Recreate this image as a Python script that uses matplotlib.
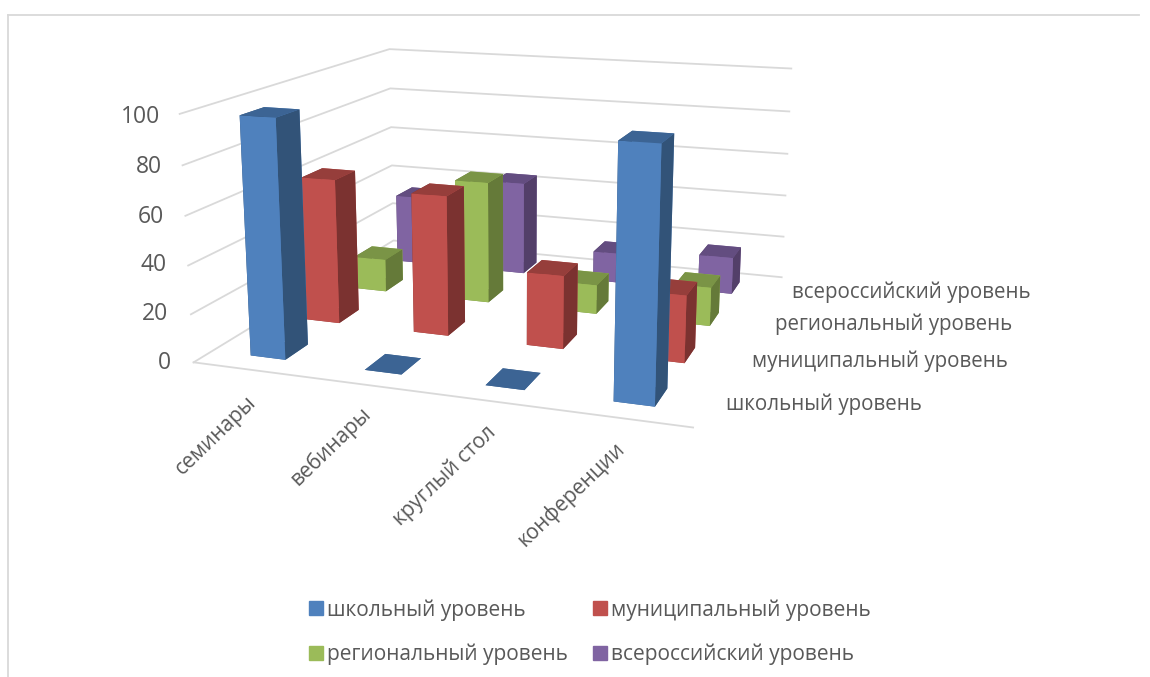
import matplotlib
matplotlib.use("Agg")
import matplotlib.pyplot as plt
from matplotlib.patches import Patch
from mpl_toolkits.mplot3d import Axes3D  # 3d projection

plt.rcParams['font.family'] = ['Open Sans', 'DejaVu Sans']

# data
categories = ['семинары', 'вебинары', 'круглый стол', 'конференции']
series = ['школьный уровень', 'муниципальный уровень', 'региональный уровень', 'всероссийский уровень']
school = [98, 0, 0, 98]
municipal = [63, 60, 31, 28]
regional = [15, 55, 13, 17]
russian = [33, 44, 14, 17]
yticks = [0, 20, 40, 60, 80, 100]

values = [school, municipal, regional, russian]
front_cols = ['#4f81bd', '#c0504d', '#9bbb59', '#8064a2']
top_cols = ['#3c6494', '#963e3b', '#7a9446', '#634d80']
side_cols = ['#325378', '#7b3230', '#657a39', '#533f69']
text_col = '#595959'
grid_col = '#d9d9d9'

W, H = 1150, 677


def px(x, y):
    # picture pixels to figure fraction
    return x / W, 1 - y / H


fig = plt.figure(figsize=(W / 100, H / 100), dpi=100)
# camera values fitted to the corners of the walls
ax = fig.add_axes([-0.0663, -0.1753, 1, 1.7], projection='3d')
ax.set_proj_type('persp', focal_length=0.2319)
ax.view_init(elev=13.81, azim=-70.73)
ax.computed_zorder = False
ax.set_axis_off()
ax.set_box_aspect((1.0339, 1, 0.513), zoom=0.5868)
ax.set_xlim(0, 4)
ax.set_ylim(0, 4)
ax.set_zlim(0, 100)

# gridlines on left and back walls
for t in yticks:
    ax.plot([0, 0, 4], [0, 4, 4], [t, t, t], color=grid_col, lw=1.3, zorder=1)
ax.plot([0, 4], [0, 0], [0, 0], color=grid_col, lw=1.3, zorder=1)

# bars, back row first so the near ones cover them
bar_w = 0.31
bar_d = 0.4
zo = 2
for s in range(3, -1, -1):
    for c in range(4):
        ax.bar3d(c + 0.5 - bar_w / 2, s + 0.5 - bar_d / 2, 0, bar_w, bar_d, values[s][c],
                 color=[top_cols[s], top_cols[s], front_cols[s], front_cols[s], side_cols[s], side_cols[s]],
                 shade=False, zorder=zo)
        zo += 1

# value axis labels
label_x = [171, 168, 167, 164, 162, 160]
label_y = [363, 314, 265, 217, 167, 117]
for t, lx, ly in zip(yticks, label_x, label_y):
    fig.text(*px(lx, ly), str(t), fontsize=16.5, color=text_col, ha='right', va='center')

# category labels, rotated
cat_x = [246, 360, 485, 614]
cat_y = [392, 403, 422, 438]
for name, lx, ly in zip(categories, cat_x, cat_y):
    fig.text(*px(lx, ly), name, fontsize=15, color=text_col, rotation=44,
             ha='right', va='top', rotation_mode='anchor')

# series labels on the right
ser_x = [726, 752, 775, 792]
ser_y = [404, 361, 324, 292]
for name, lx, ly in zip(series, ser_x, ser_y):
    fig.text(*px(lx, ly), name, fontsize=14.8, color=text_col, ha='left', va='center')

handles = [Patch(color=col) for col in front_cols]
# legend reads across the rows
fig.legend([handles[0], handles[2], handles[1], handles[3]],
           [series[0], series[2], series[1], series[3]],
           ncol=2, loc='lower left', bbox_to_anchor=(0.252, -0.010), frameon=False,
           fontsize=15, labelcolor=text_col, handlelength=0.67, handleheight=0.67,
           columnspacing=1.2, handletextpad=0.2, labelspacing=1.1)

# chart frame
fig.add_artist(plt.Line2D([0.007, 0.007], [0, 0.978], color=grid_col, lw=1.3))
fig.add_artist(plt.Line2D([0.007, 0.99], [0.978, 0.978], color=grid_col, lw=1.3))

fig.savefig('out.png', dpi=100)
